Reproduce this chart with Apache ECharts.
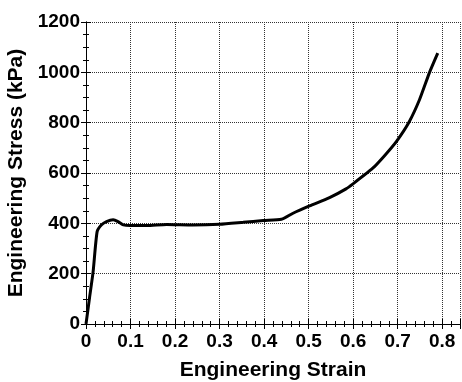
<!DOCTYPE html>
<html>
<head>
<meta charset="utf-8">
<script src="https://cdn.jsdelivr.net/npm/echarts@6/dist/echarts.min.js"></script>
<style>
  html, body { margin: 0; padding: 0; background: #fff; }
  #chart { width: 462px; height: 382px; }
</style>
</head>
<body>
<div id="chart"></div>
<script>
// values
const strain = [0, 0.008, 0.016, 0.025, 0.035, 0.046, 0.061, 0.072, 0.084, 0.099, 0.136, 0.181, 0.24, 0.30, 0.353, 0.398, 0.439, 0.465, 0.502, 0.547, 0.584, 0.599, 0.644, 0.67, 0.697, 0.726, 0.749, 0.771, 0.790];
const stress = [0, 105, 208, 367, 394, 407, 414, 407, 394, 391, 391, 395, 393, 396, 404, 411, 416, 440, 469, 502, 537, 556, 619, 668, 725, 804, 891, 997, 1076];
const xTicks = [0, 0.1, 0.2, 0.3, 0.4, 0.5, 0.6, 0.7, 0.8];
const yTicks = [0, 200, 400, 600, 800, 1000, 1200];

const chart = echarts.init(document.getElementById('chart'));
const font = 'Liberation Sans, Arial, sans-serif';
const points = strain.map((s, i) => [s, stress[i]]);

const tickStyle = { color: '#000', width: 1 };
function frameAxis(pos, isX) {
  return {
    type: 'value',
    position: pos,
    min: 0,
    max: isX ? 0.84 : 1200,
    interval: isX ? 0.1 : 200,
    axisLine: { show: true, lineStyle: { color: '#000', width: 1 } },
    axisTick: { show: true, inside: true, length: 5, lineStyle: tickStyle },
    minorTick: { show: true, splitNumber: isX ? 5 : 4, length: 3, lineStyle: tickStyle },
    axisLabel: { show: false },
    splitLine: { show: false }
  };
}

const option = {
  animation: false,
  grid: { left: 86, right: 2, top: 22, bottom: 58, containLabel: false, outerBoundsMode: 'none' },
  xAxis: [
    Object.assign(frameAxis('bottom', true), {
      name: 'Engineering Strain',
      nameLocation: 'middle',
      nameGap: 36,
      nameTextStyle: { fontFamily: font, fontWeight: 'bold', fontSize: 21, color: '#000' },
      axisLabel: {
        show: true, margin: 8, fontFamily: font, fontWeight: 'bold', fontSize: 19, color: '#000',
        formatter: v => {
          const t = xTicks.find(k => Math.abs(k - v) < 1e-6);
          return t === undefined ? '' : String(t);
        }
      },
      splitLine: { show: true, lineStyle: { color: '#333', type: [1, 1], width: 1 } }
    }),
    frameAxis('top', true)
  ],
  yAxis: [
    Object.assign(frameAxis('left', false), {
      name: 'Engineering Stress (kPa)',
      nameLocation: 'middle',
      nameGap: 57,
      nameTextStyle: { fontFamily: font, fontWeight: 'bold', fontSize: 21, color: '#000' },
      axisLabel: {
        show: true, margin: 6, fontFamily: font, fontWeight: 'bold', fontSize: 19, color: '#000',
        formatter: v => (yTicks.indexOf(v) >= 0 ? String(v) : '')
      },
      splitLine: { show: true, lineStyle: { color: '#333', type: [1, 1], width: 1 } }
    }),
    frameAxis('right', false)
  ],
  series: [
    {
      type: 'line',
      data: points,
      xAxisIndex: 0,
      yAxisIndex: 0,
      symbol: 'none',
      smooth: 0.2,
      lineStyle: { color: '#000', width: 3 }
    }
  ]
};
chart.setOption(option);
</script>
</body>
</html>
